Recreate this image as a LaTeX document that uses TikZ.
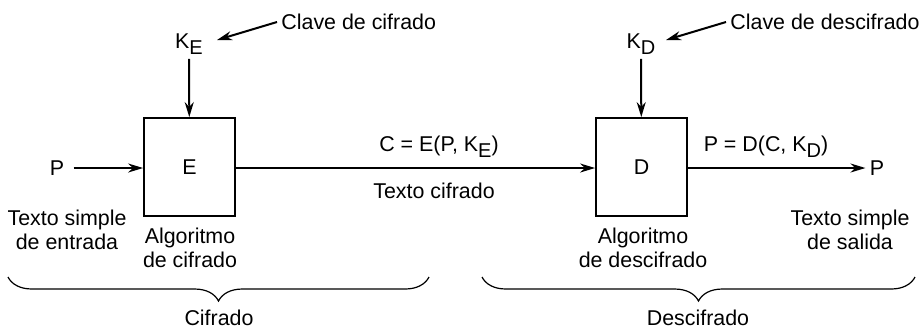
\documentclass[tikz,border=0pt]{standalone}
\usepackage{fontspec}
\setmainfont{Liberation Sans}
\usetikzlibrary{arrows.meta,decorations.pathreplacing}

\newcommand{\ksub}[1]{\raisebox{-0.55ex}{\fontsize{10}{11}\selectfont #1}}

\begin{document}
\begin{tikzpicture}[
  x=0.5pt, y=-0.5pt,
  font=\fontsize{10.7}{12.3}\selectfont,
  algbox/.style={draw, line width=0.9pt, minimum width=45.5pt, minimum height=49pt, inner sep=0pt},
  flow/.style={-{Stealth[length=7.5pt, width=4.5pt]}, line width=1pt},
  lab/.style={align=center, inner sep=2pt},
  curly/.style={decorate, decoration={brace, amplitude=12pt}, line width=0.6pt},
]
\useasboundingbox (0,0) rectangle (921,329);

% ---------- boxes ----------
\node[algbox] (E) at (189.5,167) {E};
\node[algbox] (D) at (641.5,167) {D};

% ---------- keys ----------
\node[lab] (KE) at (189,44) {K\ksub{E}};
\node[lab] (KD) at (641,44) {K\ksub{D}};
\node[lab, anchor=west] (cE) at (277,22) {Clave de cifrado};
\node[lab, anchor=west] (cD) at (726,22) {Clave de descifrado};

\draw[flow] (cE.west) -- ++(-60,18);
\draw[flow] (cD.west) -- ++(-60,18);
\draw[flow] (KE) -- (E);
\draw[flow] (KD) -- (D);

% ---------- plaintext in / out ----------
\node[lab] (Pin)  at (57,168) {P};
\node[lab] (Pout) at (877,168) {P};
\draw[flow] (Pin.east) ++(5,0) -- (Pin -| E.west);
\draw[flow] (D.east |- Pout) -- (Pout);
\draw[flow] (E.east |- Pin) -- (D.west |- Pin);

\node[lab] (ctxt) at (439,147) {C = E(P, K\ksub{E})};
\node[lab] (cname) at (434,191) {Texto cifrado};
\node[lab] (ptxt) at (766,147) {P = D(C, K\ksub{D})};

% ---------- captions ----------
\node[lab] (inlab)  at (67,230) {Texto simple\\de entrada};
\node[lab] (algE)   at (190,248) {Algoritmo\\de cifrado};
\node[lab] (algD)   at (643,248) {Algoritmo\\de descifrado};
\node[lab] (outlab) at (850,230) {Texto simple\\de salida};

% ---------- braces ----------
\coordinate (bE0) at (8,277);
\coordinate (bE1) at (429,277);
\coordinate (bD0) at (482,277);
\coordinate (bD1) at (915,277);
\draw[curly] (bE1) -- (bE0);
\draw[curly] (bD1) -- (bD0);
\node[lab, inner sep=0pt] (cif)  at (219,318) {Cifrado};
\node[lab, inner sep=0pt] (desc) at (698,318) {Descifrado};
\end{tikzpicture}
\end{document}
